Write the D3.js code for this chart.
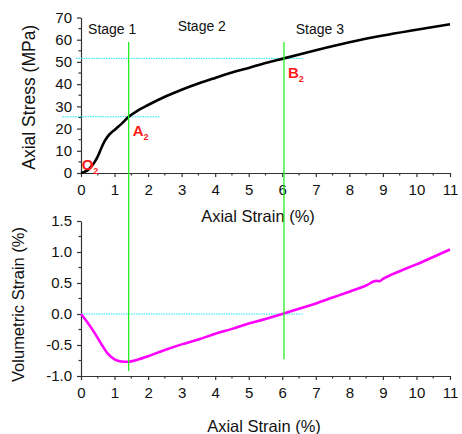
<!DOCTYPE html>
<html>
<head>
<meta charset="utf-8">
<script src="https://cdn.jsdelivr.net/npm/d3@7"></script>
<style>
  html, body { margin: 0; padding: 0; background: #fff; }
  svg { display: block; font-family: "Liberation Sans", Arial, sans-serif; }
</style>
</head>
<body>
<div id="chart"></div>
<script>
// axial strain (%) vs axial stress (MPa)
const strainTop = [0, 0.1, 0.2, 0.3, 0.4, 0.5, 0.6, 0.7, 0.8, 0.9, 1.0, 1.1, 1.2, 1.42, 1.7, 2, 2.5, 3, 3.5, 4, 4.5, 5, 5.5, 6.05, 7, 8, 9, 10, 11];
const stressVals = [0, 0.5, 1.3, 2.8, 4.8, 7.5, 11, 14.2, 16.5, 18.1, 19.4, 20.7, 22, 25.3, 28.2, 30.6, 34.3, 37.5, 40.3, 42.8, 45.2, 47.3, 49.5, 51.6, 55.3, 58.9, 61.9, 64.5, 67];

// axial strain (%) vs volumetric strain (%)
const strainBottom = [0, 0.2, 0.4, 0.6, 0.8, 1.0, 1.2, 1.4, 1.6, 2, 2.5, 3, 3.5, 4, 4.5, 5, 5.5, 6, 6.5, 7, 7.5, 8, 8.5, 8.8, 8.9, 9, 9.5, 10, 10.5, 11];
const volVals = [0, -0.14, -0.3, -0.48, -0.64, -0.73, -0.765, -0.77, -0.75, -0.68, -0.58, -0.49, -0.41, -0.32, -0.24, -0.155, -0.08, 0, 0.085, 0.17, 0.265, 0.36, 0.46, 0.535, 0.53, 0.565, 0.69, 0.8, 0.92, 1.04];

const xTicks = [0, 1, 2, 3, 4, 5, 6, 7, 8, 9, 10, 11];
const stressTicks = [0, 10, 20, 30, 40, 50, 60, 70];
const volTicks = [-1.0, -0.5, 0.0, 0.5, 1.0, 1.5];

// stage boundaries (strain), their stress levels, and labels
const stageStrain = [1.42, 6.05];
const stageStress = [25.3, 51.6];
const stageNames = ["Stage 1", "Stage 2", "Stage 3"];
const stageNameX = [0.93, 3.6, 7.12];
const pointNames = ["A", "B"];

const W = 462, H = 434;
const svg = d3.select("#chart").append("svg")
  .attr("width", W).attr("height", H);

const x = d3.scaleLinear().domain([0, 11]).range([81, 450]);
const yTop = d3.scaleLinear().domain([0, 70]).range([173, 17.5]);
const yBot = d3.scaleLinear().domain([-1, 1.5]).range([376, 221]);

const axisColor = "#333";

function styleAxis(g) {
  g.selectAll("path, line").attr("stroke", axisColor).attr("stroke-width", 1.2);
  g.selectAll("text").attr("fill", "#111").attr("font-size", 15)
    .attr("font-family", "'Liberation Sans', Arial, sans-serif");
}

function minorTicks(g, scale, vals, orient, len) {
  vals.forEach(v => {
    if (orient === "bottom") {
      g.append("line").attr("x1", scale(v)).attr("x2", scale(v))
        .attr("y1", 0).attr("y2", len).attr("stroke", axisColor).attr("stroke-width", 1.2);
    } else {
      g.append("line").attr("y1", scale(v)).attr("y2", scale(v))
        .attr("x1", 0).attr("x2", -len).attr("stroke", axisColor).attr("stroke-width", 1.2);
    }
  });
}

const halfSteps = d3.range(0.5, 11, 1);

// ---- top panel axes
const gxTop = svg.append("g").attr("transform", `translate(0,${yTop(0)})`)
  .call(d3.axisBottom(x).tickValues(xTicks).tickSize(4).tickPadding(7).tickSizeOuter(0));
minorTicks(gxTop, x, halfSteps, "bottom", 2.5);
styleAxis(gxTop);

const gyTop = svg.append("g").attr("transform", `translate(${x(0)},0)`)
  .call(d3.axisLeft(yTop).tickValues(stressTicks).tickSize(4).tickPadding(5).tickSizeOuter(0));
minorTicks(gyTop, yTop, d3.range(5, 70, 10), "left", 2.5);
styleAxis(gyTop);

// ---- bottom panel axes
const gxBot = svg.append("g").attr("transform", `translate(0,${yBot(-1)})`)
  .call(d3.axisBottom(x).tickValues(xTicks).tickSize(4).tickPadding(7).tickSizeOuter(0));
minorTicks(gxBot, x, halfSteps, "bottom", 2.5);
styleAxis(gxBot);

const gyBot = svg.append("g").attr("transform", `translate(${x(0)},0)`)
  .call(d3.axisLeft(yBot).tickValues(volTicks).tickSize(4).tickPadding(5).tickSizeOuter(0));
minorTicks(gyBot, yBot, d3.range(-0.75, 1.5, 0.5), "left", 2.5);
styleAxis(gyBot);
gyBot.selectAll("text").text(d => d3.format(".1f")(d).replace("−", "-"));

// ---- axis titles
svg.append("text").text("Axial Strain (%)")
  .attr("x", 258).attr("y", 222).attr("text-anchor", "middle")
  .attr("font-size", 16.5).attr("fill", "#111");
svg.append("text").text("Axial Strain (%)")
  .attr("x", 264).attr("y", 432).attr("text-anchor", "middle")
  .attr("font-size", 16.5).attr("fill", "#111");
svg.append("text").text("Axial Stress (MPa)")
  .attr("transform", `translate(35,${(yTop(0) + yTop(70)) / 2 + 2}) rotate(-90)`)
  .attr("text-anchor", "middle").attr("font-size", 17.5).attr("fill", "#111");
svg.append("text").text("Volumetric Strain (%)")
  .attr("transform", `translate(24,${(yBot(-1) + yBot(1.5)) / 2 + 6}) rotate(-90)`)
  .attr("text-anchor", "middle").attr("font-size", 16.5).attr("fill", "#111");

// ---- cyan reference lines
const cyan = "#19e6f0";
svg.append("line")
  .attr("x1", x(-0.15)).attr("x2", x(6.6))
  .attr("y1", yTop(stageStress[1])).attr("y2", yTop(stageStress[1]))
  .attr("stroke", cyan).attr("stroke-width", 1).attr("stroke-dasharray", "1.5,1");
svg.append("line")
  .attr("x1", x(-0.55)).attr("x2", x(2.35))
  .attr("y1", yTop(stageStress[0])).attr("y2", yTop(stageStress[0]))
  .attr("stroke", cyan).attr("stroke-width", 1).attr("stroke-dasharray", "1.5,1");
svg.append("line")
  .attr("x1", x(0)).attr("x2", x(6.6))
  .attr("y1", yBot(0)).attr("y2", yBot(0))
  .attr("stroke", cyan).attr("stroke-width", 1).attr("stroke-dasharray", "1.5,1");

// ---- curves
const lineTop = d3.line().x(d => x(d[0])).y(d => yTop(d[1])).curve(d3.curveMonotoneX);
svg.append("path")
  .datum(d3.zip(strainTop, stressVals))
  .attr("d", lineTop).attr("fill", "none").attr("stroke", "#000").attr("stroke-width", 2.6);

const lineBot = d3.line().x(d => x(d[0])).y(d => yBot(d[1])).curve(d3.curveMonotoneX);
svg.append("path")
  .datum(d3.zip(strainBottom, volVals))
  .attr("d", lineBot).attr("fill", "none").attr("stroke", "#ff00ff").attr("stroke-width", 2.6);

// ---- green stage boundaries spanning both panels
const green = "#22ee22";
const greenBottom = [-0.92, -0.73];
stageStrain.forEach((s, i) => {
  svg.append("line")
    .attr("x1", x(s)).attr("x2", x(s))
    .attr("y1", yTop(59)).attr("y2", yBot(greenBottom[i]))
    .attr("stroke", green).attr("stroke-width", 1.3);
});

// ---- stage labels
stageNames.forEach((n, i) => {
  svg.append("text").text(n)
    .attr("x", x(stageNameX[i])).attr("y", i === 1 ? 31 : 34)
    .attr("text-anchor", "middle").attr("font-size", 14).attr("fill", "#111");
});

// ---- red point labels
function pointLabel(letter, px, py) {
  const t = svg.append("text").attr("x", px).attr("y", py)
    .attr("fill", "#ff1a1a").attr("font-weight", "bold").attr("font-size", 15);
  t.append("tspan").text(letter);
  t.append("tspan").text("2").attr("font-size", 9).attr("dy", 4);
}
pointLabel("O", x(0.02), yTop(0) - 3);
pointLabel(pointNames[0], x(stageStrain[0]) + 4, yTop(stageStress[0]) + 19);
pointLabel(pointNames[1], x(stageStrain[1]) + 4, yTop(stageStress[1]) + 20);
</script>
</body>
</html>
